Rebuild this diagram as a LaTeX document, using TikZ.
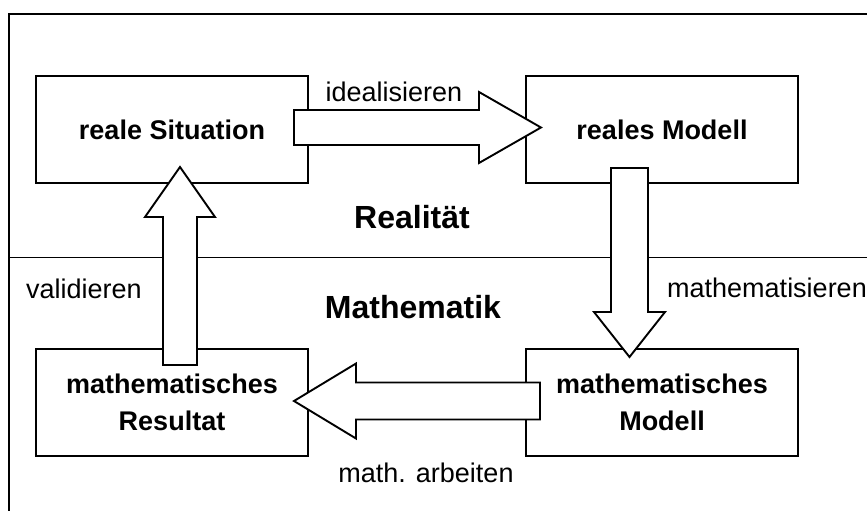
\documentclass[tikz,border=0pt]{standalone}
\usepackage{fontspec}
\setmainfont{Liberation Sans}
\usetikzlibrary{calc,positioning}

\begin{document}
\begin{tikzpicture}[x=1pt,y=-1pt,
    box/.style={draw,line width=1.9pt,minimum width=272pt,minimum height=107pt,
      outer sep=0pt,align=center,font=\fontsize{27}{37}\selectfont\bfseries},
    blockarr/.style={draw,fill=white,line width=1.9pt,line join=miter},
    lbl/.style={anchor=base,inner sep=0pt,font=\fontsize{27}{32}\selectfont},
    area/.style={anchor=base,inner sep=0pt,font=\fontsize{32}{38}\selectfont\bfseries}]
  \useasboundingbox (0,0) rectangle (867,511);
  \clip (0,0) rectangle (867,511);
  % Rahmen und Trennlinie
  \draw[line width=1.7pt] (9,530) -- (9,14) -- (880,14);
  \draw[line width=1.9pt] (9,257.5) -- (880,257.5);

  \node[box] (sit) at (172,129.5) {reale Situation};
  \node[box,right=218pt of sit] (mod) {reales Modell};
  \node[box,below=166pt of sit] (res) {mathematisches\\Resultat};
  \node[box,below=166pt of mod] (mm) {mathematisches\\Modell};

  % Blockpfeile
  \draw[blockarr] ($(sit.east)+(-14,-19.5)$) -- ($(mod.west)+(-47,-19.5)$)
    -- ($(mod.west)+(-47,-37.5)$) -- ($(mod.west)+(15,-2)$)
    -- ($(mod.west)+(-47,33.5)$) -- ($(mod.west)+(-47,15.5)$)
    -- ($(sit.east)+(-14,15.5)$) -- cycle;
  \draw[blockarr] ($(mod.south)+(-51,-15)$) -- ($(mm.north)+(-51,-37)$)
    -- ($(mm.north)+(-68,-37)$) -- ($(mm.north)+(-32.5,8)$)
    -- ($(mm.north)+(3,-37)$) -- ($(mm.north)+(-14,-37)$)
    -- ($(mod.south)+(-14,-15)$) -- cycle;
  \draw[blockarr] ($(mm.west)+(14,-20)$) -- ($(res.east)+(48,-20)$)
    -- ($(res.east)+(48,-39)$) -- ($(res.east)+(-14,-1.5)$)
    -- ($(res.east)+(48,36)$) -- ($(res.east)+(48,17)$)
    -- ($(mm.west)+(14,17)$) -- cycle;
  \draw[blockarr] ($(res.north)+(-9,16)$) -- ($(sit.south)+(-9,34)$)
    -- ($(sit.south)+(-27,34)$) -- ($(sit.south)+(8,-16)$)
    -- ($(sit.south)+(43,34)$) -- ($(sit.south)+(25,34)$)
    -- ($(res.north)+(25,16)$) -- cycle;

  \node[lbl] (tideal) at (394,101) {idealisieren};
  \node[lbl,anchor=base west] (tmath) at (667,297) {mathematisieren};
  \node[lbl] (tarb) at (426,482) {math. arbeiten};
  \node[lbl] (tvalid) at (84,298) {validieren};
  \node[area] (treal) at (412,228) {Realität};
  \node[area] (tmathe) at (413,318) {Mathematik};
\end{tikzpicture}
\end{document}
